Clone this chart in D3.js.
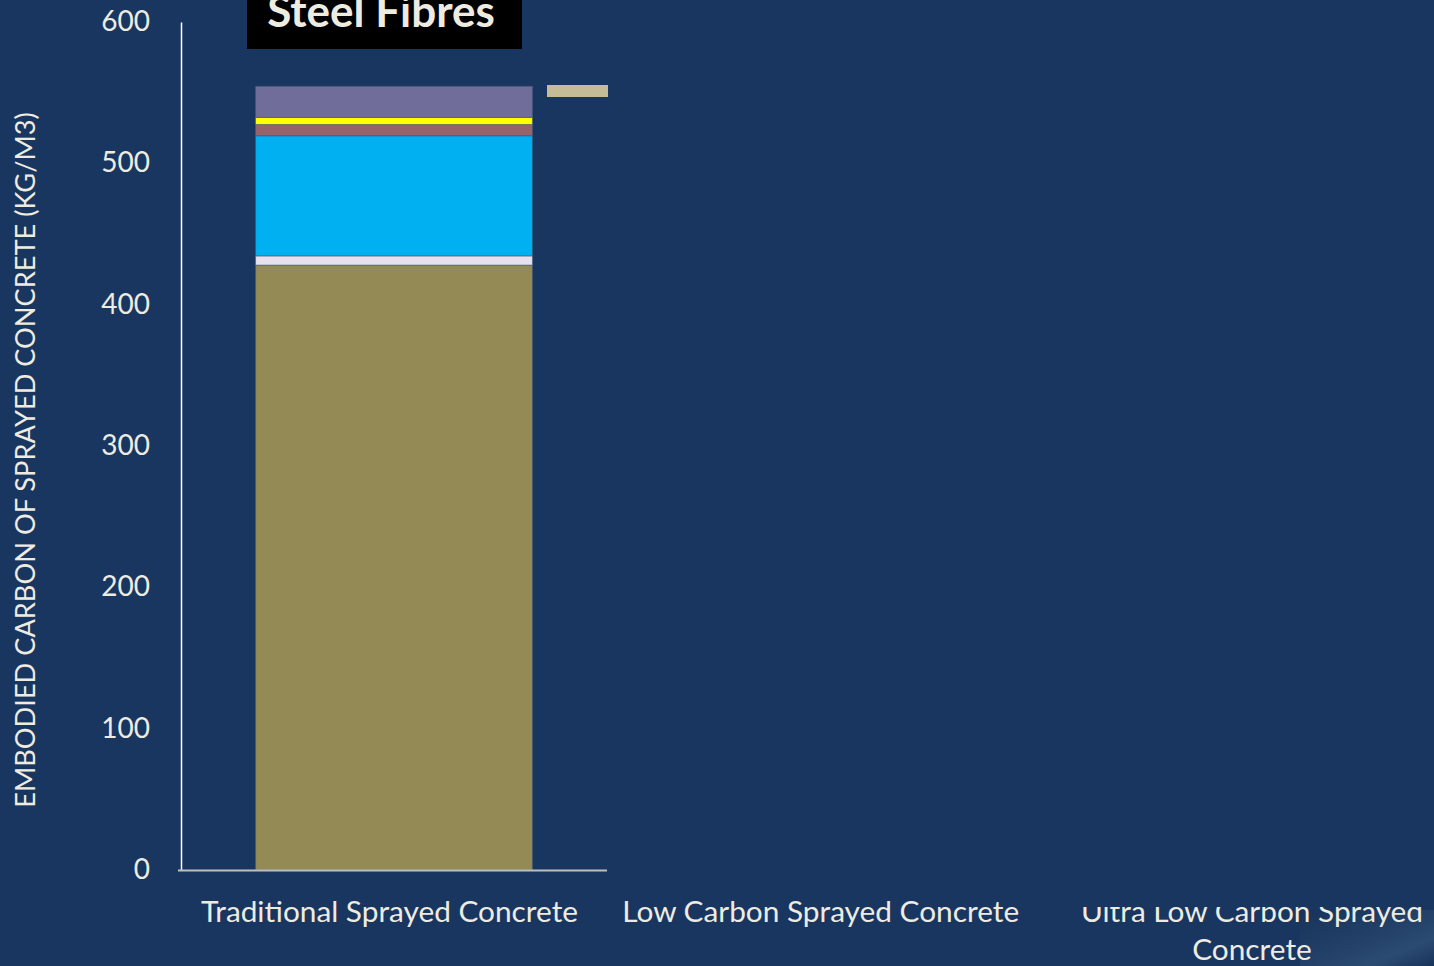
<!DOCTYPE html>
<html>
<head>
<meta charset="utf-8">
<script src="https://cdn.jsdelivr.net/npm/d3@7"></script>
<style>
  html, body { margin: 0; padding: 0; background: #193660; overflow: hidden; }
  svg text { font-family: Lato, "Noto Sans", sans-serif; fill: #eeece1; }
</style>
</head>
<body>
<svg id="chart"></svg>
<script>
// Chart data
const categories = ['Traditional Sprayed Concrete', 'Low Carbon Sprayed Concrete', 'Ultra Low Carbon Sprayed Concrete'];
const seriesKeys = ['Cement', 'Water', 'Aggregates', 'Admixtures', 'Accelerator', 'Transport'];
const seriesColors = ['#938a55', '#e6e1ef', '#00b0f0', '#97636b', '#ffff00', '#716d9b'];
const cementValues      = [428, 0, 0];
const waterValues       = [6.5, 0, 0];
const aggregateValues   = [85, 0, 0];
const admixtureValues   = [8, 0, 0];
const acceleratorValues = [5, 0, 0];
const transportValues   = [22, 0, 0];
const yTicks = [0, 100, 200, 300, 400, 500, 600];
const legendColors = ['#c4bc97'];

const config = {
  width: 1434, height: 966,
  left: 181, top: 22, bottom: 870,
  step: 426
};

const svg = d3.select('#chart')
    .attr('width', config.width)
    .attr('height', config.height);

svg.append('rect')
    .attr('width', config.width)
    .attr('height', config.height)
    .attr('fill', '#193660');

// faint picture corner bottom right
const grad = svg.append('defs').append('linearGradient')
    .attr('id', 'corner')
    .attr('x1', '0%').attr('y1', '0%').attr('x2', '100%').attr('y2', '100%');
grad.append('stop').attr('offset', '0%').attr('stop-color', '#17335a');
grad.append('stop').attr('offset', '55%').attr('stop-color', '#24426a');
grad.append('stop').attr('offset', '75%').attr('stop-color', '#2c4b73');
grad.append('stop').attr('offset', '100%').attr('stop-color', '#17335a');
svg.append('rect')
    .attr('x', 1300)
    .attr('y', 910)
    .attr('width', config.width - 1300)
    .attr('height', config.height - 910)
    .attr('fill', 'url(#corner)');

// scales
const xScale = d3.scaleBand()
    .domain(categories)
    .range([config.left, config.left + config.step * categories.length])
    .paddingInner(0.35)
    .paddingOuter(0.175);

// label positions sit on a slightly wider spacing than the bars
const labelScale = d3.scalePoint()
    .domain(categories)
    .range([389.5, 1252]);

const yScale = d3.scaleLinear()
    .domain([0, 600])
    .range([config.bottom, config.top]);

// build table for stack
const valueLists = [cementValues, waterValues, aggregateValues, admixtureValues, acceleratorValues, transportValues];
const table = categories.map((c, i) => {
  const row = {category: c};
  seriesKeys.forEach((k, j) => row[k] = valueLists[j][i]);
  return row;
});
const series = d3.stack().keys(seriesKeys)(table);
const colorScale = d3.scaleOrdinal().domain(seriesKeys).range(seriesColors);

// y axis
const yAxis = d3.axisLeft(yScale)
    .tickValues(yTicks)
    .tickSize(0)
    .tickPadding(31);

const yAxisG = svg.append('g')
    .attr('transform', `translate(${config.left},0)`)
    .call(yAxis);
yAxisG.select('.domain').attr('stroke', '#ffffff').attr('stroke-width', 1.5);
yAxisG.selectAll('text')
    .attr('fill', '#eeece1')
    .style('font-size', '28px')
    .attr('dy', '0.3em');

// bars
svg.append('g')
  .selectAll('g')
  .data(series)
  .join('g')
    .attr('fill', d => colorScale(d.key))
  .selectAll('rect')
  .data(d => d.filter(v => v[1] - v[0] > 0))
  .join('rect')
    .attr('x', d => xScale(d.data.category))
    .attr('y', d => yScale(d[1]))
    .attr('width', xScale.bandwidth())
    .attr('height', d => yScale(d[0]) - yScale(d[1]))
    .attr('stroke', 'rgba(70,90,120,0.55)')
    .attr('stroke-width', 1);

// x axis line (only under first category)
svg.append('line')
    .attr('x1', config.left - 3)
    .attr('x2', config.left + config.step)
    .attr('y1', config.bottom + 0.5)
    .attr('y2', config.bottom + 0.5)
    .attr('stroke', '#bfbfbf')
    .attr('stroke-width', 2);

// category labels
const labelG = svg.append('g');
categories.forEach((c, i) => {
  const cx = labelScale(c);
  const t = labelG.append('text')
      .attr('x', cx)
      .attr('y', 922)
      .style('font-size', '29.8px')
      .style('text-anchor', 'middle');
  if (i === 2) {
    t.append('tspan').attr('x', cx).text('Ultra Low Carbon Sprayed');
    t.append('tspan').attr('x', cx).attr('dy', 38).text('Concrete');
  } else {
    t.text(c);
  }
});

// cover band over the upper part of the third label
svg.append('rect')
    .attr('x', 1070)
    .attr('y', 878)
    .attr('width', config.width - 1070)
    .attr('height', 29)
    .attr('fill', '#193660');

// y axis title
svg.append('text')
    .attr('transform', `translate(35,${(config.top + config.bottom) / 2 + 14}) rotate(-90)`)
    .style('text-anchor', 'middle')
    .style('font-size', '27.2px')
    .text('EMBODIED CARBON OF SPRAYED CONCRETE (KG/M3)');

// legend swatch
svg.append('g')
  .selectAll('rect')
  .data(legendColors)
  .join('rect')
    .attr('x', 547)
    .attr('y', (d, i) => 85 + i * 20)
    .attr('width', 61)
    .attr('height', 12)
    .attr('fill', d => d);

// title box
svg.append('rect')
    .attr('x', 247)
    .attr('y', -5)
    .attr('width', 275)
    .attr('height', 54)
    .attr('fill', '#000000');
svg.append('text')
    .attr('x', 381)
    .attr('y', 27)
    .style('text-anchor', 'middle')
    .style('font-size', '44px')
    .style('font-weight', 'bold')
    .text('Steel Fibres');
</script>
</body>
</html>
